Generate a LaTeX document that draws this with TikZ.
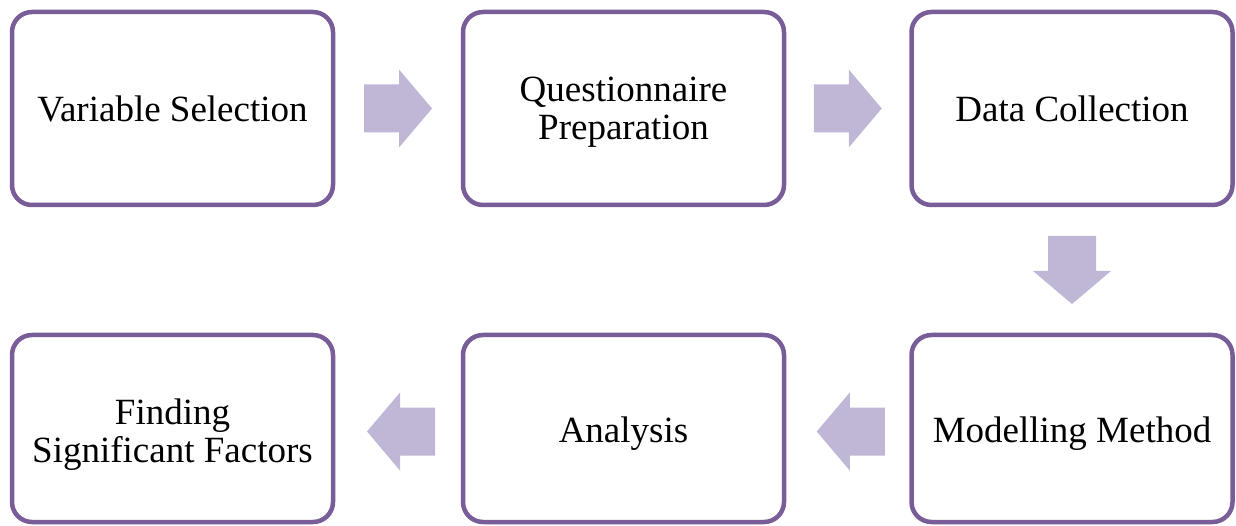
\documentclass[tikz,border=0pt]{standalone}
\usepackage{fontspec}
\setmainfont{Liberation Serif}
\usetikzlibrary{calc}
\definecolor{boxline}{RGB}{121,93,152}
\definecolor{arrowfill}{RGB}{191,183,213}
\tikzset{
  stagebox/.style={draw=boxline, line width=4.5pt, rounded corners=20pt, fill=white,
    minimum width=321pt, align=center, font=\fontsize{37}{38}\selectfont, inner sep=0pt},
  toprow/.style={minimum height=193pt},
  botrow/.style={minimum height=187pt},
  flowarrowstyle/.style={fill=arrowfill, draw=none}
}
\newcommand\lowered[2]{\raisebox{-#1}[\height][\depth]{#2}}
\newcommand\flowarrow[2]{%
  \begin{scope}[shift={(#1)}, rotate=#2]
    \fill[flowarrowstyle] (-34pt,-24pt) -- (1pt,-24pt) -- (1pt,-39pt) -- (34pt,0pt)
      -- (1pt,39pt) -- (1pt,24pt) -- (-34pt,24pt) -- cycle;
  \end{scope}}
\begin{document}
\begin{tikzpicture}[x=1pt, y=-1pt]
\useasboundingbox (0,0) rectangle (1236,526);
\node[stagebox, toprow] (vs) at (172.5,108.5) {Variable Selection};
\node[stagebox, toprow] (qp) at (623.5,108.5) {\lowered{4pt}{\parbox{300pt}{\centering Questionnaire\\Preparation}}};
\node[stagebox, toprow] (dc) at (1072,108.5) {Data Collection};
\node[stagebox, botrow] (mm) at (1072,428.5) {\lowered{5pt}{Modelling Method}};
\node[stagebox, botrow] (an) at (623.5,428.5) {\lowered{5pt}{Analysis}};
\node[stagebox, botrow] (fs) at (172.5,428.5) {\lowered{6pt}{\parbox{310pt}{\centering Finding\\Significant Factors}}};
\coordinate (a1) at ($(vs.east)!0.5!(qp.west)$);
\coordinate (a2) at ($(qp.east)!0.5!(dc.west)$);
\coordinate (a3) at ($(dc.south)!0.5!(mm.north)$);
\coordinate (a4) at ($(mm.west)!0.5!(an.east)+(3,3)$);
\coordinate (a5) at ($(an.west)!0.5!(fs.east)+(3,3)$);
\flowarrow{a1}{0}
\flowarrow{a2}{0}
\flowarrow{a3}{-90}
\flowarrow{a4}{180}
\flowarrow{a5}{180}
\end{tikzpicture}
\end{document}
